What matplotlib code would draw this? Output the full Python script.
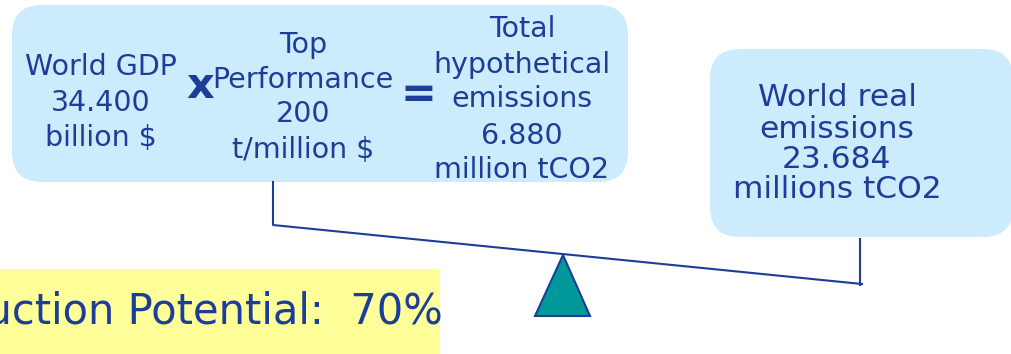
import matplotlib.pyplot as plt
from matplotlib.patches import FancyBboxPatch, Polygon

# texts of the two balance pans and the result banner
gdp_lines = ['World GDP', '34.400', 'billion $']
perf_lines = ['Top', 'Performance', '200', 't/million $']
hypo_lines = ['Total', 'hypothetical', 'emissions', '6.880', 'million tCO2']
real_lines = ['World real', 'emissions', '23.684', 'millions tCO2']
banner = 'Emission Reduction Potential:  70%'

blue = '#1C3D98'
box_fill = '#CCEBFC'

fig = plt.figure(figsize=(10.12, 3.54), dpi=100)
ax = fig.add_axes([0, 0, 1, 1])
ax.set_xlim(0, 1012)
ax.set_ylim(354, 0)
ax.axis('off')

# rounded boxes
ax.add_patch(FancyBboxPatch((12, 5), 616, 177, boxstyle='round,pad=0,rounding_size=30',
                            fc=box_fill, ec='none'))
ax.add_patch(FancyBboxPatch((710, 49), 303, 188, boxstyle='round,pad=0,rounding_size=30',
                            fc=box_fill, ec='none'))


def stack(lines, x, ys, size):
    for s, y in zip(lines, ys):
        ax.text(x, y, s, ha='center', va='center', fontsize=size, color=blue,
                family='DejaVu Sans')


stack(gdp_lines, 101, [67, 103, 138], 20.5)
stack(perf_lines, 303, [45, 80, 114, 150], 20.5)
stack(hypo_lines, 522, [29, 65, 99, 136, 170], 20.5)
stack(real_lines, 837, [97, 129, 159, 189], 22.5)

ax.text(200, 86, 'x', ha='center', va='center', fontsize=31, fontweight='bold', color=blue)
ax.text(418, 95, '=', ha='center', va='center', fontsize=31, fontweight='bold', color=blue)

# balance beam with hangers
ax.plot([273, 273, 862], [182, 225, 284], color=blue, lw=1.5)
ax.plot([860, 860], [239, 285], color=blue, lw=1.5)
ax.add_patch(Polygon([[535, 316], [563, 255], [590, 316]], closed=True,
                     fc='#009999', ec=blue, lw=1.5, zorder=3))

# result banner, cut by the left edge
ax.add_patch(plt.Rectangle((0, 269), 440, 85, fc='#FFFF99', ec='none'))
ax.text(443, 311, banner, ha='right', va='center', fontsize=30, color=blue,
        family='DejaVu Sans')

fig.savefig('out.png', dpi=100)
